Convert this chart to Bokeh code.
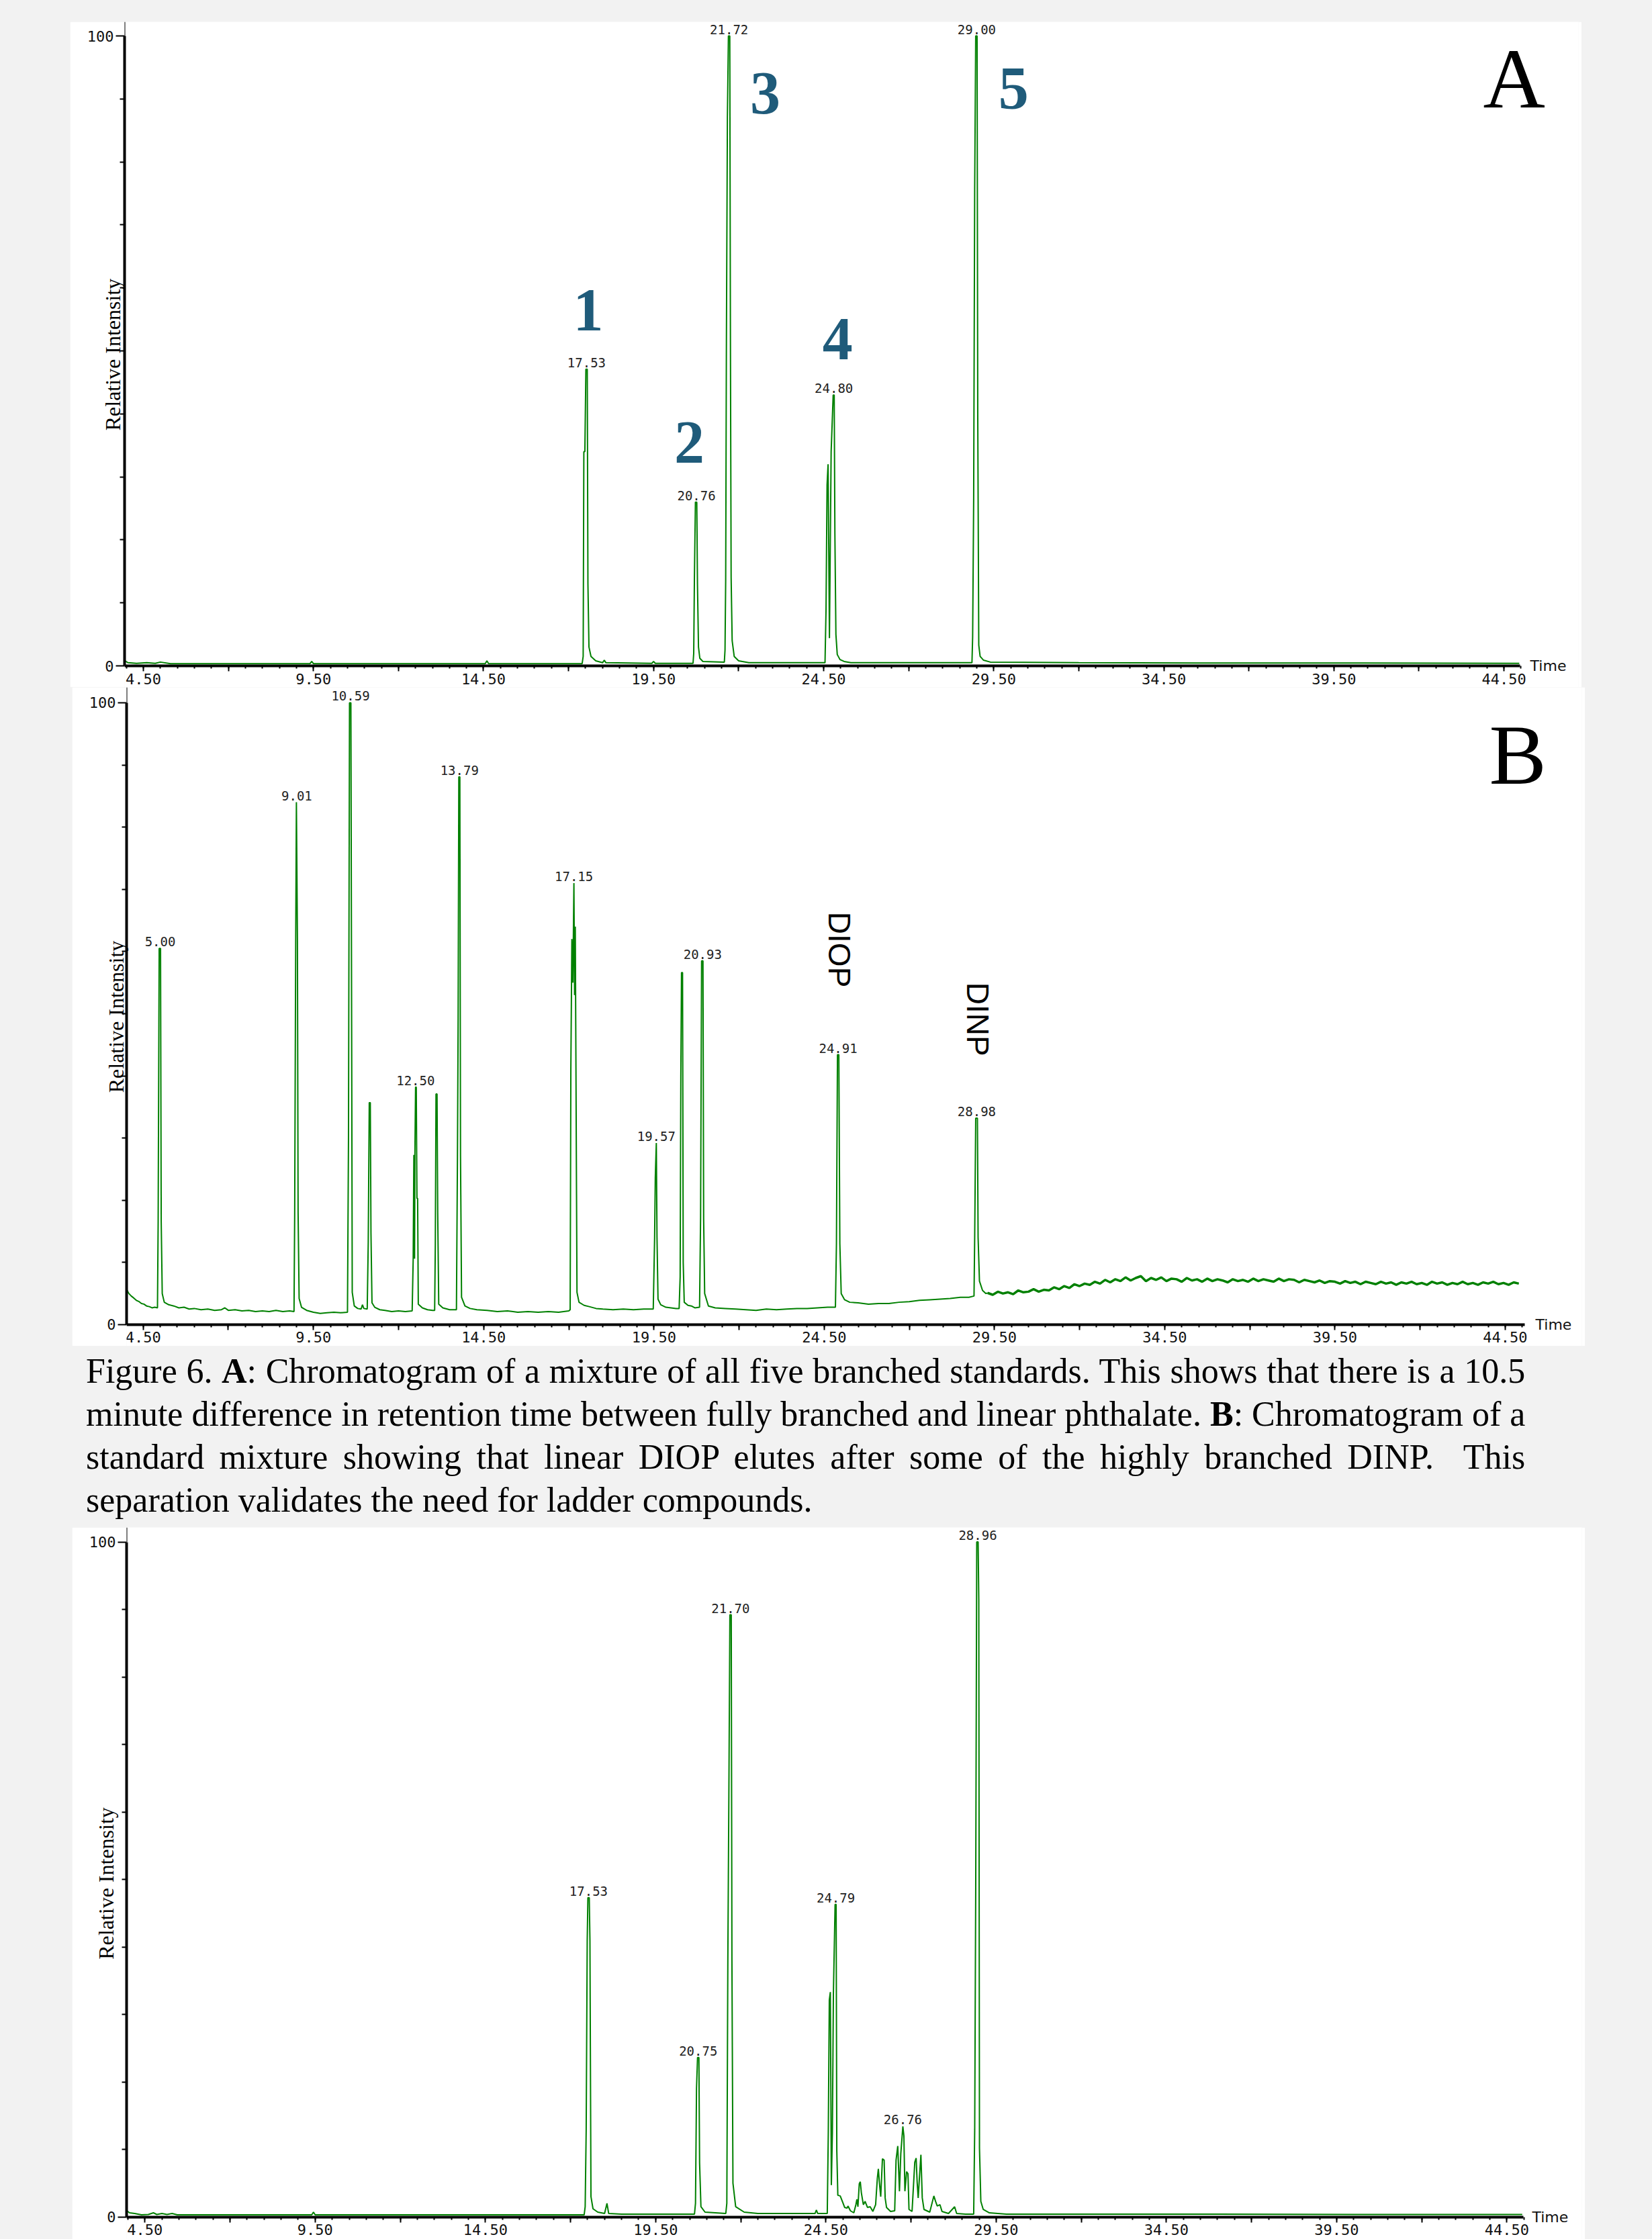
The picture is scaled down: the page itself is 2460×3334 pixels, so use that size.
import math
from bokeh.plotting import figure
from bokeh.models import Range1d, FixedTicker, Div
from bokeh.layouts import column
from bokeh.core.properties import value
from bokeh.embed import file_html
from bokeh.resources import INLINE

# ---------------- data ----------------
X_LABEL_TICKS = [4.5, 9.5, 14.5, 19.5, 24.5, 29.5, 34.5, 39.5, 44.5]
X_LABEL_TEXT = ["4.50", "9.50", "14.50", "19.50", "24.50", "29.50", "34.50", "39.50", "44.50"]
X_LONG_TICKS = [7.0, 12.0, 17.0, 22.0, 27.0, 32.0, 37.0, 42.0]
Y_LABEL_TICKS = [0, 100]

# Panel A: mixture of the five branched standards (time [min], relative intensity)
A_POINTS = [
    (3.96, 0.8), (4.05, 0.5), (4.3, 0.4), (4.6, 0.5), (4.85, 0.4), (5.0, 0.6), (5.3, 0.35),
    (9.40, 0.35), (9.45, 0.7), (9.50, 0.35), (14.55, 0.35), (14.60, 0.8), (14.65, 0.35),
    (17.40, 0.35), (17.43, 1.5), (17.45, 34), (17.48, 34), (17.51, 47.1), (17.55, 47.1),
    (17.57, 13), (17.60, 3), (17.66, 1.5), (17.8, 0.8), (18.0, 0.5), (18.05, 0.9), (18.1, 0.5),
    (19.45, 0.4), (19.50, 0.7), (19.55, 0.4),
    (20.66, 0.4), (20.68, 2), (20.70, 13.7), (20.73, 26), (20.77, 26), (20.79, 13), (20.82, 3),
    (20.86, 1.2), (20.95, 0.7),
    (21.58, 0.6), (21.60, 2.5), (21.62, 13.7), (21.64, 50), (21.67, 87), (21.70, 100),
    (21.74, 100), (21.76, 50), (21.78, 14), (21.81, 4), (21.87, 1.5), (22.0, 0.8), (22.3, 0.5),
    (24.54, 0.5), (24.57, 9), (24.60, 28.7), (24.63, 32), (24.67, 4.4), (24.72, 34),
    (24.78, 43), (24.81, 43), (24.83, 21), (24.86, 5), (24.90, 1.8), (24.98, 1.0), (25.1, 0.7),
    (25.3, 0.5),
    (28.86, 0.5), (28.88, 4.6), (28.91, 26.4), (28.94, 75.6), (28.97, 100), (29.01, 100),
    (29.03, 40), (29.06, 3.3), (29.10, 1.5), (29.20, 0.9), (29.40, 0.6), (32.0, 0.5),
    (36.0, 0.45), (40.0, 0.45), (44.95, 0.4),
]
A_PEAK_T = [17.53, 20.76, 21.72, 24.80, 29.00]
A_PEAK_I = [47.1, 26, 100, 43, 100]
A_NUM_TEXT = ["1", "2", "3", "4", "5"]

# Panel B: standard mixture
B_POINTS = [
    (4.02, 5.6), (4.08, 5.0), (4.15, 4.6), (4.22, 4.3), (4.30, 3.9), (4.38, 3.7), (4.45, 3.4),
    (4.52, 3.3), (4.60, 3.0), (4.68, 2.9), (4.76, 2.7), (4.84, 2.8), (4.92, 2.7),
    (4.94, 16.5), (4.97, 60.5), (5.01, 60.5), (5.03, 16.5), (5.06, 5.0), (5.12, 3.6),
    (5.25, 3.2), (5.4, 3.0), (5.55, 2.7), (5.7, 2.8), (5.85, 2.5), (6.0, 2.6), (6.2, 2.4),
    (6.4, 2.5), (6.6, 2.3), (6.8, 2.4), (6.9, 2.7), (7.0, 2.3), (7.2, 2.4), (7.4, 2.2),
    (7.6, 2.3), (7.8, 2.1), (8.0, 2.2), (8.2, 2.1), (8.4, 2.3), (8.6, 2.1), (8.8, 2.2),
    (8.93, 2.1),
    (8.95, 18), (8.98, 62), (9.00, 84), (9.03, 62), (9.05, 18), (9.08, 4.2), (9.15, 2.8),
    (9.3, 2.3), (9.5, 2.0), (9.7, 1.8), (9.9, 1.9), (10.1, 2.0), (10.3, 1.9), (10.5, 2.0),
    (10.53, 30), (10.56, 100), (10.60, 100), (10.62, 53.7), (10.64, 5.2), (10.70, 3.0),
    (10.8, 2.6), (10.9, 2.5), (10.94, 3.2), (10.98, 2.6), (11.08, 2.5),
    (11.11, 13.3), (11.14, 35.7), (11.17, 35.7), (11.19, 14.7), (11.22, 3.5), (11.3, 2.8),
    (11.45, 2.4), (11.6, 2.3), (11.8, 2.1), (12.0, 2.2), (12.2, 2.1), (12.4, 2.2),
    (12.43, 10.6), (12.45, 27.3), (12.47, 10.6), (12.48, 27.3), (12.50, 38.2), (12.52, 38.2),
    (12.54, 20.3), (12.56, 20.3), (12.58, 3.3), (12.7, 2.7), (12.85, 2.4), (13.0, 2.3),
    (13.06, 2.3),
    (13.08, 13), (13.10, 37.1), (13.13, 37.1), (13.15, 18), (13.18, 3.3), (13.3, 2.7),
    (13.5, 2.4), (13.70, 2.4),
    (13.73, 27), (13.75, 49.3), (13.77, 88.1), (13.80, 88.1), (13.82, 27), (13.85, 4.4),
    (13.95, 3.0), (14.1, 2.6), (14.3, 2.4), (14.6, 2.3), (14.9, 2.1), (15.2, 2.2), (15.5, 2.0),
    (15.8, 2.1), (16.1, 2.0), (16.4, 2.1), (16.7, 2.0), (17.0, 2.2), (17.04, 2.4),
    (17.06, 41), (17.09, 62), (17.12, 55), (17.15, 71), (17.17, 53), (17.19, 64), (17.21, 41),
    (17.24, 5.2), (17.30, 3.6), (17.45, 3.1), (17.6, 2.9), (17.8, 2.6), (18.0, 2.5),
    (18.3, 2.4), (18.6, 2.5), (18.9, 2.4), (19.2, 2.5), (19.48, 2.5),
    (19.52, 14), (19.54, 23.6), (19.57, 29.2), (19.59, 14), (19.62, 4.1), (19.7, 3.2),
    (19.85, 2.8), (20.0, 2.7), (20.15, 2.6), (20.24, 2.6),
    (20.27, 7.7), (20.29, 40), (20.31, 56.6), (20.34, 56.6), (20.36, 10), (20.39, 3.6),
    (20.5, 3.1), (20.6, 3.0), (20.7, 2.7), (20.84, 2.8),
    (20.87, 17.2), (20.90, 58.5), (20.94, 58.5), (20.96, 17), (20.99, 5.0), (21.1, 3.0),
    (21.3, 2.7), (21.6, 2.6), (21.9, 2.5), (22.2, 2.4), (22.5, 2.3), (22.8, 2.5), (23.1, 2.4),
    (23.4, 2.5), (23.7, 2.6), (24.0, 2.6), (24.3, 2.7), (24.6, 2.8), (24.83, 2.8),
    (24.86, 13), (24.89, 43.4), (24.93, 43.4), (24.96, 13), (25.0, 5.0), (25.1, 4.0),
    (25.25, 3.6), (25.5, 3.5), (25.8, 3.3), (26.1, 3.4), (26.4, 3.4), (26.7, 3.6), (27.0, 3.7),
    (27.3, 3.9), (27.6, 4.0), (27.9, 4.1), (28.2, 4.2), (28.5, 4.4), (28.75, 4.4), (28.90, 4.6),
    (28.92, 14), (28.95, 33.2), (29.00, 33.2), (29.02, 14), (29.06, 7.0), (29.15, 5.5),
    (29.25, 5.0), (29.30, 5.1),
]
# Panel B: noisy rising baseline after DINP
B_TAIL_POINTS = [
    (29.30, 5.1), (29.45, 4.8), (29.60, 5.3), (29.75, 5.0), (29.90, 5.2), (30.05, 4.9),
    (30.20, 5.5), (30.35, 5.2), (30.50, 5.3), (30.65, 5.7), (30.80, 5.3), (30.95, 5.6),
    (31.10, 5.5), (31.25, 6.0), (31.40, 5.7), (31.55, 6.2), (31.70, 5.9), (31.85, 6.5),
    (32.00, 6.2), (32.15, 6.6), (32.30, 6.4), (32.45, 6.9), (32.60, 6.6), (32.75, 7.2),
    (32.90, 6.8), (33.05, 7.3), (33.20, 7.0), (33.35, 7.6), (33.50, 7.1), (33.65, 7.5),
    (33.80, 7.8), (33.95, 7.0), (34.10, 7.5), (34.25, 7.2), (34.40, 7.6), (34.55, 7.0),
    (34.70, 7.4), (34.85, 7.3), (35.00, 6.9), (35.15, 7.5), (35.30, 7.1), (35.45, 7.3),
    (35.60, 6.9), (35.75, 7.4), (35.90, 7.0), (36.05, 7.3), (36.20, 7.1), (36.35, 6.8),
    (36.50, 7.3), (36.65, 7.0), (36.80, 7.2), (36.95, 6.9), (37.10, 7.4), (37.25, 7.0),
    (37.40, 7.3), (37.55, 7.1), (37.70, 6.9), (37.85, 7.4), (38.00, 7.0), (38.15, 7.3),
    (38.30, 7.2), (38.45, 6.8), (38.60, 7.2), (38.75, 7.0), (38.90, 6.8), (39.05, 7.1),
    (39.20, 6.7), (39.35, 7.0), (39.50, 6.9), (39.65, 6.6), (39.80, 7.0), (39.95, 6.7),
    (40.10, 6.9), (40.25, 6.5), (40.40, 6.9), (40.55, 6.7), (40.70, 6.5), (40.85, 6.9),
    (41.00, 6.6), (41.15, 6.8), (41.30, 6.4), (41.45, 6.8), (41.60, 6.6), (41.75, 6.9),
    (41.90, 6.5), (42.05, 6.7), (42.20, 6.4), (42.35, 6.9), (42.50, 6.6), (42.65, 6.8),
    (42.80, 6.4), (42.95, 6.7), (43.10, 6.5), (43.25, 6.9), (43.40, 6.5), (43.55, 6.7),
    (43.70, 6.4), (43.85, 6.8), (44.00, 6.6), (44.15, 6.9), (44.30, 6.5), (44.45, 6.7),
    (44.60, 6.4), (44.75, 6.8), (44.90, 6.6),
]
B_PEAK_T = [5.00, 9.01, 10.59, 12.50, 13.79, 17.15, 19.57, 20.93, 24.91, 28.98]
B_PEAK_I = [60.5, 84, 100, 38.2, 88.1, 71, 29.2, 58.5, 43.4, 33.2]
B_NAMES = ["DIOP", "DINP"]

# Panel C: sample with ladder compounds
C_POINTS = [
    (3.97, 0.9), (4.05, 0.6), (4.2, 0.5), (4.4, 0.3), (4.6, 0.35), (4.75, 0.6), (4.85, 0.35),
    (5.0, 0.5), (5.15, 0.35), (5.3, 0.5), (5.45, 0.3), (9.40, 0.3), (9.45, 0.7), (9.50, 0.3),
    (17.40, 0.3), (17.43, 1.5), (17.46, 13), (17.49, 41), (17.51, 47.3), (17.55, 47.3),
    (17.57, 41), (17.60, 3), (17.66, 1.2), (17.8, 0.7), (18.0, 0.5), (18.07, 2.0), (18.12, 0.5),
    (18.5, 0.4), (20.64, 0.4), (20.67, 2), (20.70, 19), (20.73, 23.6), (20.77, 23.6),
    (20.79, 8), (20.83, 1.5), (20.95, 0.7), (21.56, 0.5), (21.59, 2), (21.62, 38), (21.65, 62.3),
    (21.68, 89.2), (21.72, 89.2), (21.74, 38), (21.77, 5), (21.85, 1.5), (22.1, 0.7),
    (22.5, 0.5), (24.18, 0.5), (24.22, 1.0), (24.26, 0.5), (24.54, 0.5),
    (24.57, 12.5), (24.60, 32.1), (24.63, 33.3), (24.66, 4.7), (24.69, 12.5), (24.72, 33),
    (24.77, 46.3), (24.80, 46.3), (24.82, 9.8), (24.85, 3.2), (24.92, 3.1), (24.99, 2.2),
    (25.05, 1.4), (25.12, 1.3), (25.15, 1.6), (25.22, 0.9), (25.32, 0.6),
    (25.38, 1.8), (25.41, 2.6), (25.44, 1.5), (25.48, 4.9), (25.51, 5.2), (25.54, 3.6),
    (25.60, 1.8), (25.65, 2.3), (25.72, 1.4), (25.80, 1.5), (25.88, 0.8),
    (25.96, 1.8), (26.01, 5.7), (26.04, 7.1), (26.07, 5.1), (26.11, 3.0), (26.16, 8.6),
    (26.21, 8.4), (26.24, 2.8), (26.28, 1.4), (26.40, 0.8), (26.52, 0.9),
    (26.56, 8.4), (26.61, 10.5), (26.66, 3.8), (26.70, 9.4), (26.76, 13.4), (26.79, 12.0),
    (26.82, 3.8), (26.87, 6.7), (26.91, 6.4), (26.94, 1.1), (27.03, 0.8),
    (27.11, 8.1), (27.15, 8.7), (27.18, 5.1), (27.21, 2.8), (27.25, 6.1), (27.29, 9.2),
    (27.33, 2.8), (27.38, 1.1), (27.55, 0.7),
    (27.67, 3.1), (27.72, 2.3), (27.77, 1.6), (27.85, 1.8), (27.91, 0.8), (28.1, 0.5),
    (28.28, 1.5), (28.34, 0.5), (28.6, 0.4), (28.84, 0.4),
    (28.87, 13), (28.90, 48.8), (28.93, 100), (28.97, 100), (28.99, 91.5), (29.01, 10.2),
    (29.05, 2.3), (29.12, 1.1), (29.3, 0.6), (29.8, 0.4), (33.0, 0.4), (36.0, 0.4),
    (40.0, 0.35), (44.95, 0.35),
]
C_PEAK_T = [17.53, 20.75, 21.70, 24.79, 26.76, 28.96]
C_PEAK_I = [47.3, 23.6, 89.2, 46.3, 13.4, 100]

CAPTION_LINES = [
    "Figure 6. <b>A</b>: Chromatogram of a mixture of all five branched standards. This shows that there is a 10.5",
    "minute difference in retention time between fully branched and linear phthalate. <b>B</b>: Chromatogram of a",
    "standard mixture showing that linear DIOP elutes after some of the highly branched DINP.&nbsp; This",
    "separation validates the need for ladder compounds.",
]

# ---------------- styling ----------------
GREEN = "#008000"
TEAL = "#1f5b7a"
BG = "#f2f2f2"
MONO = "DejaVu Sans Mono"
SANS = "DejaVu Sans"
SERIF = "Liberation Serif"
TXT = "#111111"

X_MINOR = [4.0 + 0.5 * k for k in range(83)]
Y_MINOR = [10, 20, 30, 40, 50, 60, 70, 80, 90]
X_OVERRIDES = {t: s for t, s in zip(X_LABEL_TICKS, X_LABEL_TEXT)}
for t in X_LONG_TICKS:
    X_OVERRIDES[t] = ""


def panel(w, h, xr, x_end, yr, mbl, mbr, margin, points, peak_t, peak_i,
          ylab_standoff, time_x):
    p = figure(width=w, height=h, x_range=Range1d(*xr), y_range=Range1d(*yr),
               output_backend="svg", toolbar_location=None,
               min_border_left=mbl, min_border_right=mbr, min_border_top=0,
               min_border_bottom=0, margin=margin)
    p.xgrid.visible = False
    p.ygrid.visible = False
    p.outline_line_color = None
    p.background_fill_color = "white"
    p.border_fill_color = "white"

    xa = p.xaxis[0]
    xa.fixed_location = 0
    xa.ticker = FixedTicker(ticks=sorted(X_LABEL_TICKS + X_LONG_TICKS), minor_ticks=X_MINOR)
    xa.major_label_overrides = X_OVERRIDES
    xa.bounds = (xr[0], x_end)
    xa.axis_line_width = 4
    xa.axis_line_color = "black"
    xa.major_tick_out = 8
    xa.major_tick_in = 0
    xa.minor_tick_out = 4
    xa.minor_tick_in = 0
    xa.major_tick_line_width = 2
    xa.minor_tick_line_width = 2
    xa.major_label_text_font = MONO
    xa.major_label_text_font_size = "22px"
    xa.major_label_text_color = TXT
    xa.major_label_standoff = 3

    ya = p.yaxis[0]
    ya.ticker = FixedTicker(ticks=Y_LABEL_TICKS, minor_ticks=Y_MINOR)
    ya.bounds = (0, 100)
    ya.axis_line_width = 4
    ya.axis_line_color = "black"
    ya.major_tick_out = 13
    ya.major_tick_in = 0
    ya.minor_tick_out = 7
    ya.minor_tick_in = 0
    ya.major_tick_line_width = 2
    ya.minor_tick_line_width = 2
    ya.major_label_text_font = MONO
    ya.major_label_text_font_size = "22px"
    ya.major_label_text_color = TXT
    ya.major_label_standoff = 3
    ya.axis_label = "Relative Intensity"
    ya.axis_label_text_font = SERIF
    ya.axis_label_text_font_size = "32px"
    ya.axis_label_text_font_style = "normal"
    ya.axis_label_text_color = "black"
    ya.axis_label_standoff = ylab_standoff

    # thin continuation of the y axis above 100
    p.segment(x0=[xr[0]], y0=[100], x1=[xr[0]], y1=[yr[1]], line_color="black", line_width=2)

    t = [a for a, b in points]
    v = [b for a, b in points]
    p.line(x=t, y=v, line_color=GREEN, line_width=2)

    p.text(x=peak_t, y=peak_i, text=[f"{x:.2f}" for x in peak_t],
           text_font=value(MONO), text_font_size="19px", text_color="#222222",
           text_align="center", text_baseline="bottom", text_line_height=1.0, y_offset=-3)

    p.text(x=[time_x], y=[0], text=["Time"], text_font=value(SANS),
           text_font_size="22px", text_color=TXT, text_align="left",
           text_baseline="middle")
    return p


pA = panel(2251, 991, (3.948, 46.69), 44.97, (-3.41, 102.24), 81, 3, (32, 0, 0, 104),
           A_POINTS, A_PEAK_T, A_PEAK_I, -59, 45.27)
pA.text(x=[17.58, 20.55, 22.78, 24.91, 30.08], y=[56.5, 35.4, 90.9, 51.9, 91.6], text=A_NUM_TEXT,
        text_font=value(SERIF), text_font_style="bold", text_font_size="90px",
        text_color=TEAL, text_align="center", text_baseline="alphabetic")
pA.text(x=[44.80], y=[93.2], text=["A"], text_font=value(SERIF), text_font_size="128px",
        text_color="black", text_align="center", text_baseline="alphabetic")

pB = panel(2253, 981, (4.013, 46.75), 45.08, (-3.46, 102.48), 81, 5, (0, 0, 0, 107),
           B_POINTS, B_PEAK_T, B_PEAK_I, -61, 45.39)
pB.line(x=[a for a, b in B_TAIL_POINTS], y=[b for a, b in B_TAIL_POINTS],
        line_color=GREEN, line_width=3.5)
pB.text(x=[44.87], y=[91.6], text=["B"], text_font=value(SERIF), text_font_size="128px",
        text_color="black", text_align="center", text_baseline="alphabetic")
pB.text(x=[24.95, 29.02], y=[60.3, 49.1], text=B_NAMES, text_font=value("Liberation Sans"),
        text_font_size="46px", text_color="black", text_align="center",
        text_baseline="middle", angle=-math.pi / 2)

line_html = []
for i, ln in enumerate(CAPTION_LINES):
    if i < len(CAPTION_LINES) - 1:
        st = "text-align:justify;text-align-last:justify;"
    else:
        st = "text-align:left;"
    line_html.append(f'<div style="{st}">{ln}</div>')
cap = Div(text='<div style="padding-top:6px;">' + "".join(line_html) + "</div>",
          width=2256, height=270, margin=(0, 0, 0, 128),
          styles={"font-family": "'Liberation Serif', 'Times New Roman', serif",
                  "font-size": "52px", "line-height": "64px", "color": "black"})

pC = panel(2253, 1060, (3.962, 46.70), 44.99, (-3.33, 102.14), 81, 5, (0, 0, 0, 107),
           C_POINTS, C_PEAK_T, C_PEAK_I, -46, 45.24)

page = column(pA, pB, cap, pC, spacing=0, width=2460, height=3334,
              styles={"background-color": BG})

open("out.html", "w").write(file_html(page, INLINE))
